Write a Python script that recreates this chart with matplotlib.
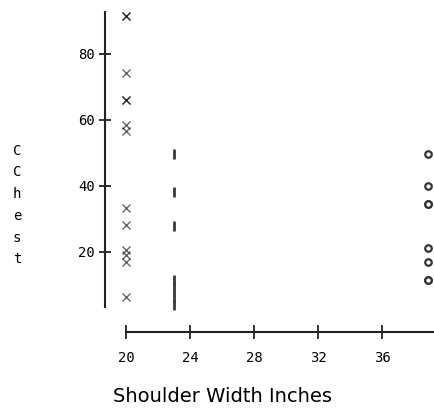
import matplotlib
matplotlib.use("Agg")
import matplotlib.pyplot as plt

# Chest measurements grouped by shoulder width
x_group_width = 20
x_group_chest = [91.5, 91.5, 74.2, 66, 66, 58.5, 56.7, 33.3, 28.2, 20.6, 19.1, 17, 6.4]
bar_group_width = 23
bar_group_chest = [49.7, 38.3, 27.9, 11.5, 9, 6.5, 4]
ring_group_width = 38.9
ring_group_chest = [49.7, 40, 34.5, 34.5, 21.2, 17, 11.5, 11.5]

x_ticks = [20, 24, 28, 32, 36]
y_ticks = [20, 40, 60, 80]

W, H = 434, 416
PT = 72 / 100  # points per pixel at 100 dpi
fig = plt.figure(figsize=(W / 100, H / 100), dpi=100)
# axes spans data x 20..39.25 and y 0..93.3
ax = fig.add_axes([126 / W, (H - 318) / H, (434 - 126) / W, (318 - 10) / H])
ax.set_xlim(20, 39.25)
ax.set_ylim(0, 93.3)

ax.plot([x_group_width] * len(x_group_chest), x_group_chest, linestyle="none",
        marker="x", markersize=8 * PT, markeredgewidth=1.0, color="black",
        alpha=0.6, clip_on=False)
ax.plot([bar_group_width] * len(bar_group_chest), bar_group_chest, linestyle="none",
        marker="|", markersize=10.5 * PT, markeredgewidth=2, color="#3a3a3a",
        clip_on=False)
ax.plot([ring_group_width] * len(ring_group_chest), ring_group_chest, linestyle="none",
        marker="o", markersize=6.5 * PT, markeredgewidth=1.6, markerfacecolor="white",
        markeredgecolor="#333333", clip_on=False)

for side in ("top", "right"):
    ax.spines[side].set_visible(False)
ax.spines["left"].set_position(("outward", 21 * PT))
ax.spines["left"].set_bounds(3.3, 92.7)
ax.spines["bottom"].set_position(("outward", 14 * PT))
ax.spines["bottom"].set_bounds(20, 39.25)
for side in ("left", "bottom"):
    ax.spines[side].set_linewidth(1.5)
    ax.spines[side].set_color("#222222")

mono = "DejaVu Sans Mono"
ax.set_xticks(x_ticks)
ax.set_yticks(y_ticks)
ax.set_xticklabels([str(t) for t in x_ticks], family=mono, fontsize=10)
ax.set_yticklabels([str(t) for t in y_ticks], family=mono, fontsize=10)
ax.tick_params(axis="x", direction="inout", length=14 * PT, width=1.3,
               pad=12 * PT, color="#222222")
ax.tick_params(axis="y", direction="inout", length=12 * PT, width=1.3,
               pad=4 * PT, color="#222222")

fig.text(113 / W, 1 - 397 / H, "Shoulder Width Inches", fontsize=14,
         family="DejaVu Sans", ha="left", va="center")
fig.text(17 / W, 1 - 205 / H, "\n".join("CChest"), fontsize=10, family=mono,
         ha="center", va="center", linespacing=1.7)

fig.savefig("out.png", dpi=100)
